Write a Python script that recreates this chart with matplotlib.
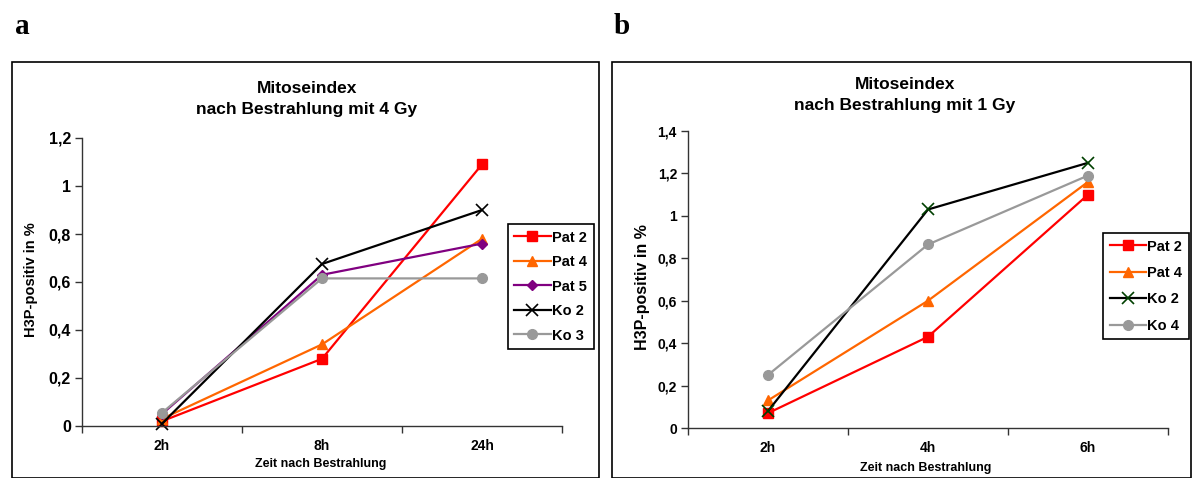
import matplotlib
matplotlib.use('Agg')
import matplotlib.pyplot as plt
from matplotlib.patches import Rectangle
from matplotlib.ticker import FuncFormatter

plt.rcParams['font.family'] = ['Liberation Sans', 'DejaVu Sans']
plt.rcParams['font.weight'] = 'bold'

W, H = 1192, 478

# panel a: 4 Gy
times_a = ['2h', '8h', '24h']
pat2_a = [0.02, 0.28, 1.09]
pat4_a = [0.03, 0.34, 0.78]
pat5_a = [0.05, 0.63, 0.76]
ko2_a = [0.01, 0.675, 0.90]
ko3_a = [0.055, 0.615, 0.615]

# panel b: 1 Gy
times_b = ['2h', '4h', '6h']
pat2_b = [0.07, 0.43, 1.10]
pat4_b = [0.13, 0.60, 1.16]
ko2_b = [0.08, 1.03, 1.25]
ko4_b = [0.25, 0.865, 1.19]

RED = '#ff0000'
ORANGE = '#ff6600'
PURPLE = '#800080'
GRAY = '#999999'


def px_axes(fig, x0, y0, x1, y1):
    # pixel box (top-left origin) -> figure axes
    return fig.add_axes([x0 / W, 1 - y1 / H, (x1 - x0) / W, (y1 - y0) / H])


def comma(v, pos):
    s = ('%.1f' % v).rstrip('0').rstrip('.')
    return s.replace('.', ',')


def style_axes(ax, cats, ymax, tick_size):
    ax.set_xlim(0, 3)
    ax.set_ylim(0, ymax)
    ax.set_xticks([0, 1, 2, 3])
    ax.set_xticklabels([])
    ax.set_xticks([0.5, 1.5, 2.5], minor=True)
    ax.set_xticklabels(cats, minor=True, fontsize=10, fontweight='bold')
    ax.tick_params(axis='x', which='minor', length=0, pad=9)
    ax.tick_params(axis='x', which='major', length=5, width=1, color='#333333')
    ax.tick_params(axis='y', length=5, width=1, color='#333333', labelsize=tick_size, pad=3)
    ax.yaxis.set_major_formatter(FuncFormatter(comma))
    for lab in ax.get_yticklabels():
        lab.set_fontweight('bold')
    for s in ['top', 'right']:
        ax.spines[s].set_visible(False)
    for s in ['left', 'bottom']:
        ax.spines[s].set_color('#333333')
        ax.spines[s].set_linewidth(1)
    ax.patch.set_visible(False)


def make_legend(ax, x, y, spacing):
    leg = ax.legend(loc='upper left', bbox_to_anchor=(x / W, 1 - y / H), bbox_transform=fig.transFigure,
                    fancybox=False, edgecolor='black', framealpha=1, fontsize=10.5, handlelength=2.5,
                    handletextpad=0.1, labelspacing=spacing, borderpad=0.45, borderaxespad=0)
    leg.get_frame().set_linewidth(1.2)
    for t in leg.get_texts():
        t.set_fontweight('bold')
    return leg


fig = plt.figure(figsize=(W / 100, H / 100), dpi=100)

# outer frames
fig.patches.append(Rectangle((12 / W, 0), (599 - 12) / W, 1 - 62 / H, transform=fig.transFigure,
                             fill=False, edgecolor='black', linewidth=1.2))
fig.patches.append(Rectangle((612 / W, 0), (1191 - 612) / W, 1 - 62 / H, transform=fig.transFigure,
                             fill=False, edgecolor='black', linewidth=1.2))

fig.text(15 / W, 1 - 26 / H, 'a', family='Liberation Serif', fontsize=21, fontweight='bold', va='center')
fig.text(614 / W, 1 - 26 / H, 'b', family='Liberation Serif', fontsize=21, fontweight='bold', va='center')

xs = [0.5, 1.5, 2.5]
lw = 1.6

# panel a
ax1 = px_axes(fig, 82, 138, 562, 426)
style_axes(ax1, times_a, 1.2, 11.5)
ax1.set_yticks([0, 0.2, 0.4, 0.6, 0.8, 1.0, 1.2])
ax1.plot(xs, pat2_a, color=RED, lw=lw, marker='s', ms=6.5, label='Pat 2', clip_on=False)
ax1.plot(xs, pat4_a, color=ORANGE, lw=lw, marker='^', ms=7, label='Pat 4', clip_on=False)
ax1.plot(xs, pat5_a, color=PURPLE, lw=lw, marker='D', ms=5.5, label='Pat 5', clip_on=False)
ax1.plot(xs, ko2_a, color='black', lw=lw, marker='x', ms=8, mew=1.2, label='Ko 2', clip_on=False)
ax1.plot(xs, ko3_a, color=GRAY, lw=lw, marker='o', ms=7, label='Ko 3', clip_on=False)
fig.text(307 / W, 1 - 99 / H, 'Mitoseindex\nnach Bestrahlung mit 4 Gy', ha='center', va='center',
         fontsize=12.5, fontweight='bold', linespacing=1.45)
fig.text(31 / W, 1 - 280 / H, 'H3P-positiv in %', rotation=90, ha='center', va='center',
         fontsize=10.5, fontweight='bold')
fig.text(321 / W, 1 - 464 / H, 'Zeit nach Bestrahlung', ha='center', va='center',
         fontsize=9, fontweight='bold')
make_legend(ax1, 507.5, 224, 0.72)

# panel b
ax2 = px_axes(fig, 688, 131, 1168, 428)
style_axes(ax2, times_b, 1.4, 10)
ax2.set_yticks([0, 0.2, 0.4, 0.6, 0.8, 1.0, 1.2, 1.4])
ax2.plot(xs, pat2_b, color=RED, lw=lw, marker='s', ms=6.5, label='Pat 2', clip_on=False)
ax2.plot(xs, pat4_b, color=ORANGE, lw=lw, marker='^', ms=7, label='Pat 4', clip_on=False)
ax2.plot(xs, ko2_b, color='black', lw=lw, marker='x', ms=8, mew=1.2, mec='#004000', label='Ko 2', clip_on=False)
ax2.plot(xs, ko4_b, color=GRAY, lw=lw, marker='o', ms=7, label='Ko 4', clip_on=False)
fig.text(905 / W, 1 - 95 / H, 'Mitoseindex\nnach Bestrahlung mit 1 Gy', ha='center', va='center',
         fontsize=12.5, fontweight='bold', linespacing=1.45)
fig.text(643 / W, 1 - 287 / H, 'H3P-positiv in %', rotation=90, ha='center', va='center',
         fontsize=11.5, fontweight='bold')
fig.text(926 / W, 1 - 468 / H, 'Zeit nach Bestrahlung', ha='center', va='center',
         fontsize=9, fontweight='bold')
make_legend(ax2, 1103, 233, 0.85)

fig.savefig('out.png', dpi=100)
